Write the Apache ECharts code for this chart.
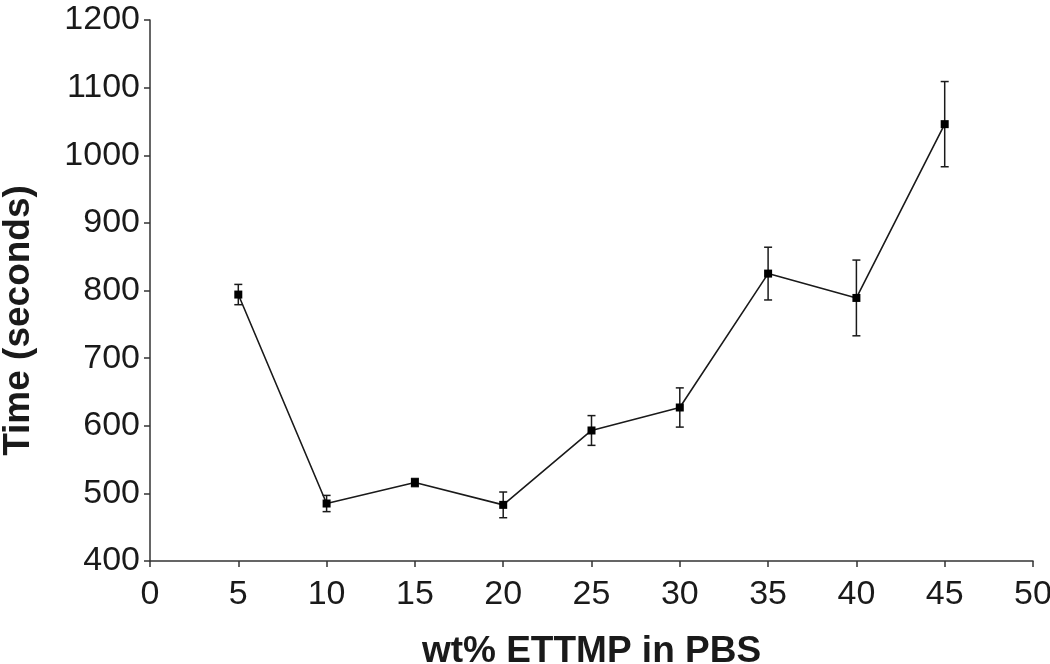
<!DOCTYPE html>
<html>
<head>
<meta charset="utf-8">
<script src="https://cdn.jsdelivr.net/npm/echarts@6/dist/echarts.min.js"></script>
<style>
html,body{margin:0;padding:0;background:#fff;}
#chart{width:1050px;height:664px;}
</style>
</head>
<body>
<div id="chart"></div>
<script>
const xValues = [5, 10, 15, 20, 25, 30, 35, 40, 45];
const timeMeans = [794, 485, 516, 483, 593, 627, 825, 789, 1046];
const timeErrors = [15, 12, 6, 19, 22, 29, 39, 56, 63];
const xAxisTitle = 'wt% ETTMP in PBS';
const yAxisTitle = 'Time (seconds)';

const lineData = xValues.map((x, i) => [x, timeMeans[i]]);
const errData = xValues.map((x, i) => [x, timeMeans[i] - timeErrors[i], timeMeans[i] + timeErrors[i]]);

const FONT = '"Liberation Sans", Arial, sans-serif';
const INK = '#1a1a1a';

const chart = echarts.init(document.getElementById('chart'), null, {renderer: 'canvas'});
chart.setOption({
  backgroundColor: '#ffffff',
  animation: false,
  grid: {left: 150, right: 17, top: 20, bottom: 103, containLabel: false, outerBoundsMode: 'none'},
  xAxis: {
    type: 'value', min: 0, max: 50, interval: 5,
    name: xAxisTitle, nameLocation: 'middle', nameGap: 72,
    nameTextStyle: {fontFamily: FONT, fontSize: 37, fontWeight: 'bold', color: INK},
    axisLine: {show: true, lineStyle: {color: '#333', width: 1.5}},
    axisTick: {show: true, inside: false, length: 6, lineStyle: {color: '#333', width: 1.5}},
    axisLabel: {fontFamily: FONT, fontSize: 34, color: INK, margin: 17, formatter: v => String(v)},
    splitLine: {show: false}
  },
  yAxis: {
    type: 'value', min: 400, max: 1200, interval: 100,
    name: yAxisTitle, nameLocation: 'middle', nameGap: 113,
    nameTextStyle: {fontFamily: FONT, fontSize: 37, fontWeight: 'bold', color: INK, padding: [0, 60, 0, 0]},
    axisLine: {show: true, lineStyle: {color: '#333', width: 1.5}},
    axisTick: {show: true, inside: false, length: 6, lineStyle: {color: '#333', width: 1.5}},
    axisLabel: {fontFamily: FONT, fontSize: 34, color: INK, margin: 10, formatter: v => String(v)},
    splitLine: {show: false}
  },
  series: [
    {
      type: 'custom',
      data: errData,
      encode: {x: 0, y: [1, 2]},
      z: 3,
      renderItem: function (params, api) {
        const x = api.value(0);
        const lo = api.coord([x, api.value(1)]);
        const hi = api.coord([x, api.value(2)]);
        const cw = 4;
        const style = {stroke: INK, lineWidth: 1.5, fill: null};
        return {
          type: 'group',
          children: [
            {type: 'line', shape: {x1: lo[0], y1: lo[1], x2: hi[0], y2: hi[1]}, style: style},
            {type: 'line', shape: {x1: lo[0] - cw, y1: lo[1], x2: lo[0] + cw, y2: lo[1]}, style: style},
            {type: 'line', shape: {x1: hi[0] - cw, y1: hi[1], x2: hi[0] + cw, y2: hi[1]}, style: style}
          ]
        };
      }
    },
    {
      type: 'line',
      data: lineData,
      symbol: 'rect',
      symbolSize: 8,
      showSymbol: true,
      z: 4,
      lineStyle: {color: INK, width: 1.6},
      itemStyle: {color: '#000', borderWidth: 0}
    }
  ]
});
</script>
</body>
</html>
